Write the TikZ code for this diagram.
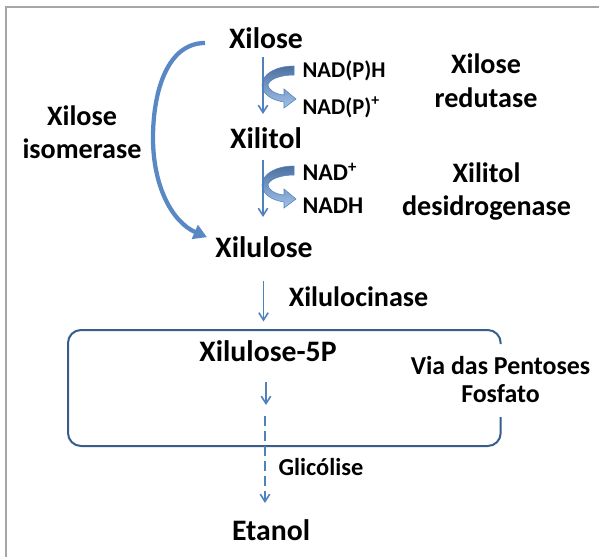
\documentclass[tikz,border=0pt]{standalone}
\usepackage{fontspec}
\setmainfont{Carlito}
\usetikzlibrary{arrows.meta}
\definecolor{accent}{RGB}{79,129,189}
\definecolor{boxblue}{RGB}{56,93,138}
\definecolor{framegray}{RGB}{166,166,166}
\definecolor{shtop}{RGB}{78,112,160}
\definecolor{shbot}{RGB}{160,194,234}
\definecolor{bigblue}{RGB}{90,136,196}
\begin{document}
\begin{tikzpicture}[x=0.75pt,y=-0.75pt,
  lbl/.style={inner sep=0pt, anchor=base},
  chem/.style={lbl, font=\fontsize{22.3pt}{26pt}\selectfont\bfseries},
  enz/.style={lbl, align=center, font=\fontsize{21.1pt}{25.35pt}\selectfont\bfseries},
  nadl/.style={lbl, anchor=base west, font=\fontsize{16.9pt}{20pt}\selectfont\bfseries},
  nads/.style={lbl, anchor=base west, font=\fontsize{18pt}{21pt}\selectfont\bfseries},
  via/.style={lbl, align=center, font=\fontsize{19.4pt}{21pt}\selectfont\bfseries},
  glic/.style={lbl, anchor=base west, font=\fontsize{18.3pt}{21pt}\selectfont\bfseries},
  thinarr/.style={draw=accent, line width=1.2pt, -{Straight Barb[length=5.5pt,width=7pt]}},
  dasharr/.style={thinarr, dash pattern=on 7.5pt off 3.75pt},
  bigarr/.style={draw=bigblue, line width=3.2pt, -{Triangle[length=10pt,width=11pt]}},
  boxline/.style={draw=boxblue, line width=1.5pt, rounded corners=9.75pt},
  frameline/.style={draw=framegray, line width=1.5pt},
  nadarrow/.pic={
    \shade[top color=shtop, bottom color=shbot, draw=accent, line width=0.4pt]
      (32,0) .. controls (14,0) and (0,8) .. (0,19)
      .. controls (0,27) and (8,34) .. (22,36)
      -- (22,42) -- (34,33) -- (22,23) -- (22,29)
      .. controls (12,28) and (6,23) .. (6,19)
      .. controls (7,13) and (19,9) .. (32,9) -- cycle;
  }
]
\useasboundingbox (0,0) rectangle (599,557);
\draw[frameline] (5.7,557) -- (5.7,6.7) -- (599,6.7);

% labels (multi-line nodes: base anchor = last line's baseline)
\node[chem] (xilose) at (266,48) {Xilose};
\node[chem] (xilitol) at (266,148.3) {Xilitol};
\node[chem] (xilulose) at (264,257.7) {Xilulose};
\node[chem] (x5p) at (268,361) {Xilulose-5P};
\node[chem] (etanol) at (271,540) {Etanol};
\node[nadl] (nadph) at (302.3,77.5) {NAD(P)H};
\node[nadl] (nadp) at (302.3,114) {NAD(P)\textsuperscript{+}};
\node[nads] (nad) at (302.3,180.7) {NAD\textsuperscript{+}};
\node[nads] (nadh) at (302.3,213.3) {NADH};
\node[enz] (xr) at (486,107.3) {Xilose\\redutase};
\node[enz] (xi) at (82,158.8) {Xilose\\isomerase};
\node[enz] (xd) at (486.5,215.8) {Xilitol\\desidrogenase};
\node[enz, anchor=base west] (xk) at (288.5,306.7) {Xilulocinase};
\node[via] (ppp) at (500.5,402.3) {Via das Pentoses\\Fosfato};
\node[glic] (gli) at (278.3,475) {Glicólise};

% box (gap on the right for the label)
\draw[boxline] (500.7,344) -- (500.7,330) -- (68,330) -- (68,446) -- (500.7,446) -- (500.7,417);

% cofactor arrows
\pic at (262,66) {nadarrow};
\pic at (262,166) {nadarrow};

% isomerase arrow
\draw[bigarr] ([shift={(-61,-5)}]xilose.base) .. controls (168,43) and (153,90) .. (153,138)
  .. controls (153,186) and (172,222) .. ([shift={(-57,-20.5)}]xilulose.base);

% pathway arrows
\draw[thinarr] ([shift={(-3,9)}]xilose.base) -- ([shift={(-3,-34.3)}]xilitol.base);
\draw[thinarr] ([shift={(-3,11.7)}]xilitol.base) -- ([shift={(-1,-40.7)}]xilulose.base);
\draw[thinarr] ([shift={(-0.5,23.3)}]xilulose.base) -- ([shift={(-4.5,-39.5)}]x5p.base);
\coordinate (pa) at (266,405);
\coordinate (pb) at (265,416);
\draw[thinarr] ([shift={(-2,21)}]x5p.base) -- (pa);
\draw[dasharr] (pb) -- ([shift={(-6,-37)}]etanol.base);
\end{tikzpicture}
\end{document}
